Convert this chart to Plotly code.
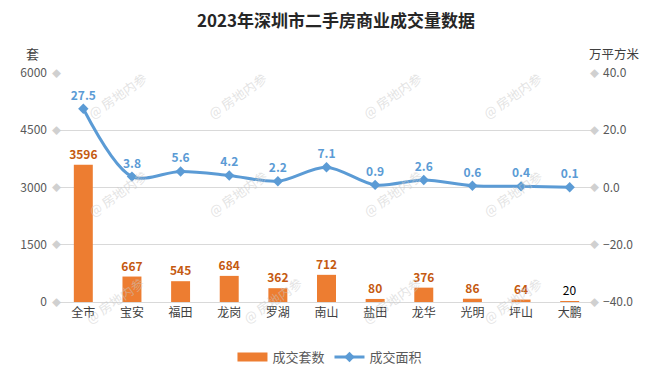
import plotly.graph_objects as go

categories = ["全市", "宝安", "福田", "龙岗", "罗湖", "南山", "盐田", "龙华", "光明", "坪山", "大鹏"]
units = [3596, 667, 545, 684, 362, 712, 80, 376, 86, 64, 20]
area = [27.5, 3.8, 5.6, 4.2, 2.2, 7.1, 0.9, 2.6, 0.6, 0.4, 0.1]
left_ticks = [0, 1500, 3000, 4500, 6000]
right_ticks = [-40, -20, 0, 20, 40]

FONT = "Noto Sans CJK SC, Microsoft YaHei, sans-serif"
ORANGE = "#ED7D31"
BLUE = "#5B9BD5"
LABEL_OR = "#C55A11"

# page is rendered with an 8px body margin; figure coords = page coords - 8
W, H = 656, 380
PL, PR, PT, PB = 47, 586, 65, 294

bar_text = [f"<b>{v}</b>" if v >= 50 else f"{v}" for v in units]
bar_colors = [LABEL_OR if v >= 50 else "#000000" for v in units]

fig = go.Figure()
fig.add_trace(go.Bar(
    x=categories, y=units, name="成交套数", showlegend=False,
    marker=dict(color=ORANGE, line=dict(width=0)),
    text=bar_text, textposition="outside", cliponaxis=False, constraintext="none",
    textfont=dict(color=bar_colors, size=12, family=FONT),
    hoverinfo="skip",
))
# legend entry for bars (wide orange swatch)
fig.add_trace(go.Scatter(
    x=[None], y=[None], name="成交套数", mode="lines",
    line=dict(color=ORANGE, width=9), hoverinfo="skip",
))
fig.add_trace(go.Scatter(
    x=categories, y=area, name="成交面积", yaxis="y2",
    mode="lines+markers+text",
    line=dict(color=BLUE, width=3, shape="spline", smoothing=0.9),
    marker=dict(symbol="diamond", size=8, color=BLUE),
    text=[f"<b>{v:.1f}</b>" for v in area], textposition="top center",
    textfont=dict(color=BLUE, size=12, family=FONT),
    cliponaxis=False, hoverinfo="skip",
))

annotations = []
for t in left_ticks:
    for xp in (-0.004, 1.0):
        annotations.append(dict(xref="paper", yref="y", x=xp, y=t, text="◆",
                                showarrow=False, font=dict(size=9, color="#D0D0D0"),
                                xanchor="center", yanchor="middle"))
annotations.append(dict(xref="paper", yref="paper", x=(20 - PL) / (PR - PL), y=(PB - 46) / (PB - PT),
                        text="套", showarrow=False, xanchor="center", yanchor="middle",
                        font=dict(size=13, color="#404040", family=FONT)))
annotations.append(dict(xref="paper", yref="paper", x=(579 - PL) / (PR - PL), y=(PB - 45) / (PB - PT),
                        text="万平方米", showarrow=False, xanchor="left", yanchor="middle",
                        font=dict(size=12.5, color="#404040", family=FONT)))
wm_pos = [(78, 66), (235, 66), (391, 66), (548, 66),
          (78, 193), (235, 193), (391, 193), (548, 193),
          (75, 330), (234, 330), (390, 330), (548, 330)]
for (px, py) in wm_pos:
    fx, fy = px - 8, py - 8
    annotations.append(dict(xref="paper", yref="paper",
                            x=(fx - PL) / (PR - PL), y=(PB - fy) / (PB - PT),
                            text="@ 房地内参", showarrow=False, textangle=-35,
                            font=dict(size=13, color="rgba(200,200,200,0.5)", family=FONT)))

fig.update_layout(
    width=W, height=H,
    margin=dict(l=PL, r=W - PR, t=PT, b=H - PB),
    paper_bgcolor="white", plot_bgcolor="white",
    font=dict(family=FONT, color="#595959", size=12),
    title=dict(text="<b>2023年深圳市二手房商业成交量数据</b>", x=0.5, xanchor="center",
               y=1 - 13 / H, yanchor="middle", font=dict(size=17, color="#262626", family=FONT)),
    bargap=0.61,
    showlegend=True,
    legend=dict(orientation="h", x=(328 - 8 - PL) / (PR - PL), xanchor="center",
                y=(PB - 349) / (PB - PT), yanchor="middle",
                font=dict(size=13, color="#595959"), itemwidth=30, tracegroupgap=0),
    xaxis=dict(range=[-0.5, len(categories) - 0.5], showline=True, linecolor="#D9D9D9",
               linewidth=1, ticks="", tickfont=dict(size=12, color="#404040"), showgrid=False),
    yaxis=dict(range=[0, 6000], tickvals=left_ticks, showgrid=True, gridcolor="#D9D9D9",
               zeroline=False, ticklabelstandoff=11, tickfont=dict(size=12, color="#595959")),
    yaxis2=dict(range=[-40, 40], tickvals=right_ticks, tickformat=".1f", overlaying="y",
                side="right", showgrid=False, zeroline=False, ticklabelstandoff=8,
                tickfont=dict(size=12, color="#595959")),
    annotations=annotations,
)

fig.write_html("out.html")
